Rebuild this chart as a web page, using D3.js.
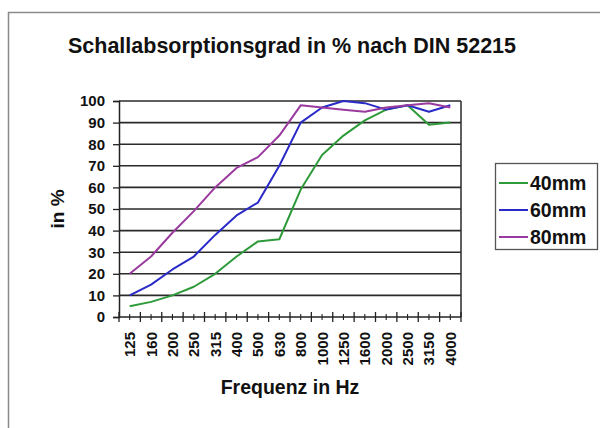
<!DOCTYPE html>
<html>
<head>
<meta charset="utf-8">
<script src="https://cdn.jsdelivr.net/npm/d3@7"></script>
<style>
  body { margin: 0; background: #fff; }
  text { font-family: "Liberation Sans", Arial, sans-serif; font-weight: bold; fill: #111; }
</style>
</head>
<body>
<div id="chart"></div>
<script>
// Daten: Frequenzen und Absorptionsgrad je Dicke
const frequenzen = ["125", "160", "200", "250", "315", "400", "500", "630", "800",
  "1000", "1250", "1600", "2000", "2500", "3150", "4000"]
const werte40 = [5, 7, 10, 14, 20, 28, 35, 36, 59, 75, 84, 91, 96, 98, 89, 90]
const werte60 = [10, 15, 22, 28, 38, 47, 53, 70, 90, 97, 100, 99, 96, 98, 95, 98]
const werte80 = [20, 28, 39, 49, 60, 69, 74, 84, 98, 97, 96, 95, 97, 98, 99, 97]
const serienNamen = ["40mm", "60mm", "80mm"]
const yTicks = [0, 10, 20, 30, 40, 50, 60, 70, 80, 90, 100]

const farben = d3.scaleOrdinal()
  .domain(serienNamen)
  .range(["#2f9a3a", "#2a2ac8", "#9a3a9e"])

const serien = [
  { name: "40mm", values: werte40 },
  { name: "60mm", values: werte60 },
  { name: "80mm", values: werte80 },
]

// Dimensionen
const anchoTotal = 600
const altoTotal = 428
const margins = { top: 101, right: 139, bottom: 111, left: 119 }
const ancho = anchoTotal - margins.left - margins.right
const alto = altoTotal - margins.top - margins.bottom

const svg = d3.select("#chart")
  .append("svg")
    .attr("width", anchoTotal)
    .attr("height", altoTotal)

// Rahmen des Diagramms
svg.append("rect")
  .attr("x", 8.5).attr("y", 12.5)
  .attr("width", 620).attr("height", 440)
  .attr("fill", "none")
  .attr("stroke", "#8a8a8a")
  .attr("stroke-width", 1.5)

const g = svg.append("g")
  .attr("transform", `translate(${margins.left},${margins.top})`)

const x = d3.scaleBand()
  .domain(frequenzen)
  .range([0, ancho])

const y = d3.scaleLinear()
  .domain([0, 100])
  .range([alto, 0])

// Gitterlinien
g.append("g")
  .selectAll("line")
  .data(yTicks.filter(d => d > 0))
  .enter()
  .append("line")
    .attr("x1", 0).attr("x2", ancho)
    .attr("y1", d => y(d)).attr("y2", d => y(d))
    .attr("stroke", "#2a2a2a")
    .attr("stroke-width", 1.6)

// rechte Kante der Zeichenfläche
g.append("line")
  .attr("x1", ancho).attr("x2", ancho)
  .attr("y1", 0).attr("y2", alto)
  .attr("stroke", "#2a2a2a")
  .attr("stroke-width", 1.5)

// Y Achse
const yAxis = g.append("g")
  .call(d3.axisLeft(y).tickValues(yTicks).tickSize(6).tickPadding(8))
yAxis.select(".domain").attr("stroke", "#222").attr("stroke-width", 1.5)
yAxis.selectAll(".tick line").attr("stroke", "#222").attr("stroke-width", 1.3)
yAxis.selectAll("text")
  .attr("font-size", "15px")
  .attr("font-family", "Liberation Sans, Arial, sans-serif")
  .attr("font-weight", "bold")
  .attr("fill", "#111")

// X Achse
const xAxis = g.append("g")
  .attr("transform", `translate(0, ${alto})`)
xAxis.append("line")
  .attr("x1", 0).attr("x2", ancho)
  .attr("stroke", "#222")
  .attr("stroke-width", 1.5)

// Teilstriche: Grenzen kreuzen, Mitte klein
const grenzen = frequenzen.map(f => x(f)).concat([ancho])
xAxis.selectAll(".major")
  .data(grenzen)
  .enter()
  .append("line")
    .attr("x1", d => d).attr("x2", d => d)
    .attr("y1", -5).attr("y2", 5)
    .attr("stroke", "#222")
    .attr("stroke-width", 1.3)
xAxis.selectAll(".minor")
  .data(frequenzen)
  .enter()
  .append("line")
    .attr("x1", d => x(d) + x.bandwidth() / 2).attr("x2", d => x(d) + x.bandwidth() / 2)
    .attr("y1", -3).attr("y2", 3)
    .attr("stroke", "#222")
    .attr("stroke-width", 1.1)

xAxis.selectAll(".lbl")
  .data(frequenzen)
  .enter()
  .append("text")
    .attr("transform", d => `translate(${x(d) + x.bandwidth() / 2 + 5.5}, 15) rotate(-90)`)
    .attr("text-anchor", "end")
    .attr("font-size", "15px")
    .text(d => d)

// Linien
const linie = d3.line()
  .x((d, i) => x(frequenzen[i]) + x.bandwidth() / 2)
  .y(d => y(d))

g.selectAll(".serie")
  .data(serien)
  .enter()
  .append("path")
    .attr("d", d => linie(d.values))
    .attr("fill", "none")
    .attr("stroke", d => farben(d.name))
    .attr("stroke-width", 2)
    .attr("stroke-linejoin", "round")

// Titel
svg.append("text")
  .attr("x", 292)
  .attr("y", 53)
  .attr("text-anchor", "middle")
  .attr("font-size", "21.5px")
  .text("Schallabsorptionsgrad in % nach DIN 52215")

svg.append("text")
  .attr("x", margins.left + ancho / 2)
  .attr("y", 394)
  .attr("text-anchor", "middle")
  .attr("font-size", "19.5px")
  .text("Frequenz in Hz")

svg.append("text")
  .attr("transform", `translate(64, ${margins.top + alto / 2}) rotate(-90)`)
  .attr("text-anchor", "middle")
  .attr("font-size", "19px")
  .text("in %")

// Legende
const legende = svg.append("g")
  .attr("transform", "translate(495, 163)")
legende.append("rect")
  .attr("x", 0.5).attr("y", 0.5)
  .attr("width", 102).attr("height", 86)
  .attr("fill", "#fff")
  .attr("stroke", "#555")
  .attr("stroke-width", 1.3)

const eintraege = legende.selectAll(".eintrag")
  .data(serienNamen)
  .enter()
  .append("g")
    .attr("transform", (d, i) => `translate(0, ${20 + i * 27})`)
eintraege.append("line")
  .attr("x1", 4).attr("x2", 33)
  .attr("stroke", d => farben(d))
  .attr("stroke-width", 2)
eintraege.append("text")
  .attr("x", 35)
  .attr("y", 7)
  .attr("font-size", "19.5px")
  .text(d => d)
</script>
</body>
</html>
